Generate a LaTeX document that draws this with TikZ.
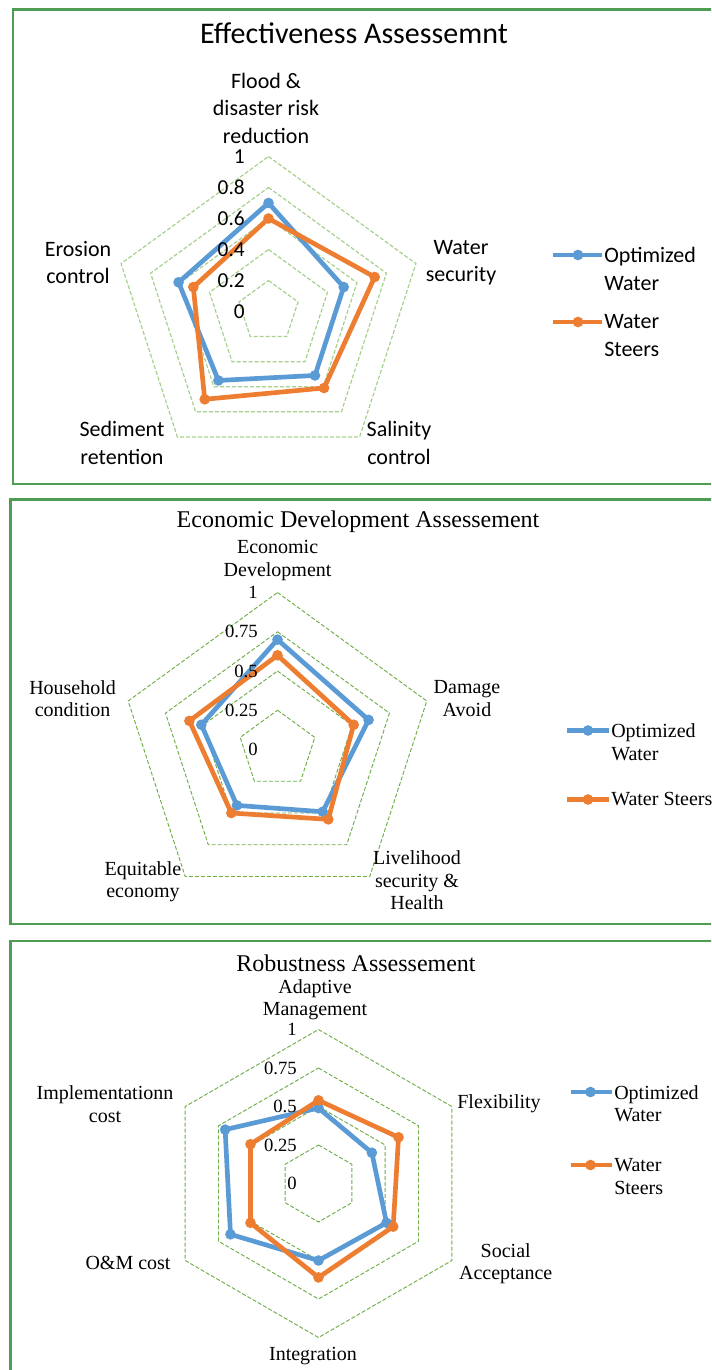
\documentclass[tikz,border=0pt]{standalone}
\usepackage{fontspec}
\setmainfont{Liberation Serif}
\newfontfamily\calfont{Carlito}
\definecolor{framegreen}{RGB}{78,157,82}
\definecolor{gridlight}{RGB}{169,209,142}
\definecolor{griddark}{RGB}{112,173,71}
\definecolor{serblue}{RGB}{91,155,213}
\definecolor{serorange}{RGB}{237,125,49}
\begin{document}
\begin{tikzpicture}[x=0.75pt,y=-0.75pt,
  frame/.style={draw=framegreen,line width=1.8pt},
  gridA/.style={draw=gridlight,line width=0.9pt,dash pattern=on 3pt off 1.5pt},
  gridB/.style={draw=griddark,line width=0.7pt,dash pattern=on 3pt off 1.5pt},
  bser/.style={draw=serblue,line width=3.5pt,line join=round},
  oser/.style={draw=serorange,line width=3.5pt,line join=round},
  bdot/.style={circle,fill=serblue,inner sep=0pt,minimum size=8pt},
  odot/.style={circle,fill=serorange,inner sep=0pt,minimum size=8pt},
  ttlA/.style={font=\calfont\fontsize{22.5}{27}\selectfont,inner sep=0pt},
  lblA/.style={font=\calfont\fontsize{16.5}{20.6}\selectfont,align=center,inner sep=0pt},
  tickA/.style={font=\calfont\fontsize{16}{19}\selectfont,anchor=east,inner sep=0pt},
  ttlB/.style={font=\fontsize{18}{21}\selectfont,inner sep=0pt},
  lblB/.style={font=\fontsize{15}{16.9}\selectfont,align=center,inner sep=0pt},
  tickB/.style={font=\fontsize{14}{16}\selectfont,anchor=east,inner sep=0pt},
]
\useasboundingbox (0,0) rectangle (711,1370);
\clip (0,0) rectangle (711,1370);
\fill[white] (0,0) rectangle (711,1370);

% ================= Panel 1 =================
\draw[frame] (13,9.5) rectangle (740,484);
\node[ttlA] (e-title) at (354,33) {Effectiveness Assessemnt};
\begin{scope}[shift={(268.5,311.5)},yscale=-1]
  \foreach \r in {31,62,93,124,155}
    \draw[gridA] (90:\r) -- (18:\r) -- (-54:\r) -- (-126:\r) -- (162:\r) -- cycle;
  \draw[bser] (90:{0.70*155}) -- (18:{0.51*155}) -- (-54:{0.51*155}) -- (-126:{0.55*155}) -- (162:{0.61*155}) -- cycle;
  \foreach \a/\v [count=\i] in {90/0.70,18/0.51,-54/0.51,-126/0.55,162/0.61}
    \node[bdot] (e-b\i) at (\a:{\v*155}) {};
  \draw[oser] (90:{0.60*155}) -- (18:{0.72*155}) -- (-54:{0.61*155}) -- (-126:{0.70*155}) -- (162:{0.51*155}) -- cycle;
  \foreach \a/\v [count=\i] in {90/0.60,18/0.72,-54/0.61,-126/0.70,162/0.51}
    \node[odot] (e-o\i) at (\a:{\v*155}) {};
\end{scope}
\foreach \v/\t [count=\i] in {0/0,0.2/0.2,0.4/0.4,0.6/0.6,0.8/0.8,1/1}
  \node[tickA] (e-t\i) at (245,{311.5-\v*155}) {\t};
\node[lblA] (e-l1) at (266,108) {Flood \&\\disaster risk\\reduction};
\node[lblA] (e-l2) at (461,262.5) {Water\\security};
\node[lblA] (e-l3) at (399,443) {Salinity\\control};
\node[lblA] (e-l4) at (122,443) {Sediment\\retention};
\node[lblA] (e-l5) at (78,262.5) {Erosion\\control};
% legend
\coordinate (e-lb1) at (553,255); \coordinate (e-lb2) at (602,255);
\draw[bser] (e-lb1) -- (e-lb2);
\node[bdot] (e-lbd) at (578,255) {};
\node[lblA,align=left,anchor=west] (e-lbt) at (604,269) {Optimized\\Water};
\coordinate (e-lo1) at (553,322); \coordinate (e-lo2) at (602,322);
\draw[oser] (e-lo1) -- (e-lo2);
\node[odot] (e-lod) at (578,322) {};
\node[lblA,align=left,anchor=west] (e-lot) at (604,335.5) {Water\\Steers};

% ================= Panel 2 =================
\draw[frame] (10.5,499.5) rectangle (740,924);
\node[ttlB] (d-title) at (358,522) {Economic Development Assessement};
\begin{scope}[shift={(277.5,749.5)},yscale=-1]
  \foreach \r in {39.25,78.5,117.75,157}
    \draw[gridB] (90:\r) -- (18:\r) -- (-54:\r) -- (-126:\r) -- (162:\r) -- cycle;
  \draw[bser] (90:{0.70*157}) -- (18:{0.61*157}) -- (-54:{0.49*157}) -- (-126:{0.44*157}) -- (162:{0.51*157}) -- cycle;
  \foreach \a/\v [count=\i] in {90/0.70,18/0.61,-54/0.49,-126/0.44,162/0.51}
    \node[bdot] (d-b\i) at (\a:{\v*157}) {};
  \draw[oser] (90:{0.60*157}) -- (18:{0.51*157}) -- (-54:{0.55*157}) -- (-126:{0.50*157}) -- (162:{0.59*157}) -- cycle;
  \foreach \a/\v [count=\i] in {90/0.60,18/0.51,-54/0.55,-126/0.50,162/0.59}
    \node[odot] (d-o\i) at (\a:{\v*157}) {};
\end{scope}
\foreach \v/\t [count=\i] in {0/0,0.25/0.25,0.5/0.5,0.75/0.75,1/1}
  \node[tickB] (d-t\i) at (258,{749.5-\v*157}) {\t};
\node[lblB] (d-l1) at (277.6,560.5) {Economic\\Development};
\node[lblB] (d-l2) at (467,698.5) {Damage\\Avoid};
\node[lblB] (d-l3) at (417,880.5) {Livelihood\\security \&\\Health};
\node[lblB] (d-l4) at (143,881.5) {Equitable\\economy};
\node[lblB] (d-l5) at (72.6,698.5) {Household\\condition};
% legend
\coordinate (d-lb1) at (567,730.5); \coordinate (d-lb2) at (609,730.5);
\draw[bser] (d-lb1) -- (d-lb2);
\node[bdot] (d-lbd) at (588,730.5) {};
\node[lblB,align=left,anchor=west] (d-lbt) at (611,742) {Optimized\\Water};
\coordinate (d-lo1) at (567,799.5); \coordinate (d-lo2) at (609,799.5);
\draw[oser] (d-lo1) -- (d-lo2);
\node[odot] (d-lod) at (588,799.5) {};
\node[lblB,align=left,anchor=west] (d-lot) at (611,799.5) {Water Steers};

% ================= Panel 3 =================
\draw[frame] (10.5,940.7) rectangle (740,1420);
\node[ttlB] (r-title) at (356,963) {Robustness Assessement};
\begin{scope}[shift={(318.5,1183.5)},yscale=-1]
  \foreach \r in {38.5,77,115.5,154}
    \draw[gridB] (90:\r) -- (30:\r) -- (-30:\r) -- (-90:\r) -- (-150:\r) -- (150:\r) -- cycle;
  \draw[bser] (90:{0.49*154}) -- (30:{0.40*154}) -- (-30:{0.51*154}) -- (-90:{0.50*154}) -- (-150:{0.66*154}) -- (150:{0.70*154}) -- cycle;
  \foreach \a/\v [count=\i] in {90/0.49,30/0.40,-30/0.51,-90/0.50,-150/0.66,150/0.70}
    \node[bdot] (r-b\i) at (\a:{\v*154}) {};
  \draw[oser] (90:{0.54*154}) -- (30:{0.60*154}) -- (-30:{0.56*154}) -- (-90:{0.61*154}) -- (-150:{0.51*154}) -- (150:{0.51*154}) -- cycle;
  \foreach \a/\v [count=\i] in {90/0.54,30/0.60,-30/0.56,-90/0.61,-150/0.51,150/0.51}
    \node[odot] (r-o\i) at (\a:{\v*154}) {};
\end{scope}
\foreach \v/\t [count=\i] in {0/0,0.25/0.25,0.5/0.5,0.75/0.75,1/1}
  \node[tickB] (r-t\i) at (297,{1183.5-\v*154}) {\t};
\node[lblB] (r-l1) at (315,999.5) {Adaptive\\Management};
\node[lblB] (r-l2) at (499,1104) {Flexibility};
\node[lblB] (r-l3) at (505.7,1263.5) {Social\\Acceptance};
\node[lblB] (r-l4) at (313,1356) {Integration};
\node[lblB] (r-l5) at (128,1263.3) {O\&M cost};
\node[lblB] (r-l6) at (105,1104) {Implementationn\\cost};
% legend
\coordinate (r-lb1) at (570.5,1092); \coordinate (r-lb2) at (612,1092);
\draw[bser] (r-lb1) -- (r-lb2);
\node[bdot] (r-lbd) at (590.5,1092) {};
\node[lblB,align=left,anchor=west] (r-lbt) at (614,1103.5) {Optimized\\Water};
\coordinate (r-lo1) at (570.5,1165); \coordinate (r-lo2) at (612,1165);
\draw[oser] (r-lo1) -- (r-lo2);
\node[odot] (r-lod) at (590.5,1165) {};
\node[lblB,align=left,anchor=west] (r-lot) at (614,1176.5) {Water\\Steers};
\end{tikzpicture}
\end{document}
